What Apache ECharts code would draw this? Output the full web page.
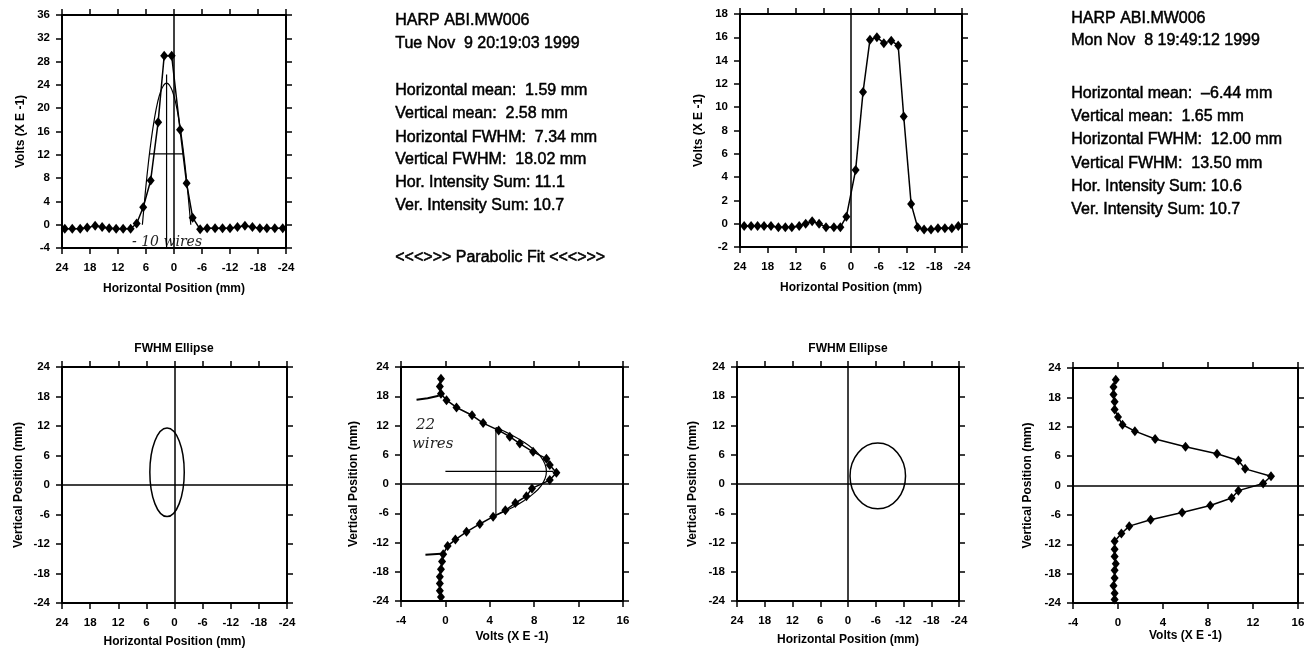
<!DOCTYPE html>
<html>
<head>
<meta charset="utf-8">
<script src="https://cdn.jsdelivr.net/npm/echarts@6/dist/echarts.min.js"></script>
<style>
  html, body { margin: 0; padding: 0; background: #fff; }
  #chart { width: 1308px; height: 649px; }
</style>
</head>
<body>
<div id="chart"></div>
<script>
// HARP ABI.MW006 scans

// Tue Nov 9 — horizontal wires
var novNineHorPos = [23.4, 21.8, 20.1, 18.6, 16.9, 15.4, 13.9, 12.4, 10.9, 9.3, 8.0, 6.6, 5.0, 3.4, 2.1, 0.5,
  -1.3, -2.7, -4.0, -5.6, -7.1, -8.8, -10.4, -12.0, -13.6, -15.2, -16.8, -18.4, -19.9, -21.6, -23.3]
var novNineHorVolts = [-0.7, -0.7, -0.7, -0.5, -0.2, -0.4, -0.6, -0.7, -0.7, -0.7, 0.2, 3.0, 7.6, 17.6, 29.0, 29.0,
  16.3, 7.1, 1.2, -0.8, -0.6, -0.6, -0.6, -0.6, -0.4, -0.2, -0.4, -0.6, -0.6, -0.6, -0.6]
// parabolic fit drawn over the horizontal scan
var novNineHorFitPos = [6.78, 6.14, 5.49, 4.84, 4.19, 3.54, 2.89, 2.24, 1.59, 0.94, 0.29, -0.36, -1.01, -1.66, -2.31, -2.96, -3.6]
var novNineHorFitVolts = [0, 5.6, 10.6, 14.8, 18.2, 20.9, 22.8, 23.9, 24.3, 23.9, 22.8, 20.9, 18.2, 14.8, 10.6, 5.6, 0]

// Tue Nov 9 — vertical wires
var novNineVerPos = [21.6, 20.0, 18.5, 17.2, 15.7, 14.1, 12.5, 11.0, 9.7, 8.3, 6.6, 5.2, 3.9, 2.3, 0.8, -0.9,
  -2.5, -3.9, -5.4, -6.7, -8.2, -9.8, -11.4, -12.7, -14.4, -15.9, -17.5, -19.0, -20.4, -21.9, -23.2]
var novNineVerVolts = [-0.4, -0.5, -0.4, 0.1, 1.0, 2.4, 3.4, 4.8, 5.8, 6.7, 7.9, 9.1, 9.4, 10.0, 9.4, 7.8,
  7.3, 6.3, 5.4, 4.3, 3.1, 1.9, 0.9, 0.2, -0.2, -0.3, -0.4, -0.5, -0.5, -0.5, -0.4]
var novNineVerFitPos = [11.58, 10.08, 8.58, 7.08, 5.58, 4.08, 2.58, 1.08, -0.42, -1.92, -3.42, -4.92, -6.42]
var novNineVerFitVolts = [4.56, 5.95, 7.08, 7.96, 8.6, 8.97, 9.1, 8.97, 8.6, 7.96, 7.08, 5.95, 4.56]

// Mon Nov 8 — horizontal wires
var novEightHorPos = [23.1, 21.6, 20.2, 18.8, 17.3, 15.7, 14.2, 12.8, 11.2, 9.8, 8.4, 6.9, 5.4, 3.7, 2.3, 1.0,
  -1.0, -2.6, -4.1, -5.6, -7.1, -8.7, -10.2, -11.4, -13.0, -14.4, -15.8, -17.3, -18.8, -20.3, -21.8, -23.2]
var novEightHorVolts = [-0.2, -0.2, -0.2, -0.2, -0.2, -0.3, -0.3, -0.3, -0.2, 0.0, 0.2, 0.0, -0.3, -0.3, -0.3, 0.6,
  4.6, 11.3, 15.8, 16.0, 15.5, 15.7, 15.3, 9.2, 1.7, -0.3, -0.5, -0.5, -0.4, -0.4, -0.4, -0.2]

// Mon Nov 8 — vertical wires
var novEightVerPos = [21.6, 20.1, 18.6, 17.1, 15.5, 14.0, 12.4, 11.1, 9.5, 7.9, 6.5, 5.1, 3.4, 1.9, 0.4, -1.05,
  -2.55, -4.1, -5.5, -7.0, -8.3, -9.8, -11.4, -13.0, -14.5, -16.0, -17.3, -18.9, -20.5, -22.0, -23.3]
var novEightVerVolts = [-0.2, -0.4, -0.4, -0.3, -0.3, 0.0, 0.4, 1.5, 3.3, 6.0, 8.8, 10.7, 11.3, 13.6, 12.9, 10.7,
  10.1, 8.2, 5.7, 2.9, 1.0, 0.3, -0.3, -0.3, -0.3, -0.2, -0.3, -0.3, -0.4, -0.3, -0.3]

// printed statistics: [hor mean, ver mean, hor FWHM, ver FWHM, hor sum, ver sum]
var novNineStats = [1.59, 2.58, 7.34, 18.02, 11.1, 10.7]
var novEightStats = [-6.44, 1.65, 12.00, 13.50, 10.6, 10.7]
var novNineStamp = 'Tue Nov  9 20:19:03 1999'
var novEightStamp = 'Mon Nov  8 19:49:12 1999'

var FONT = '"Liberation Sans", Arial, sans-serif'
var grids = [], xAxes = [], yAxes = [], series = []

function pair(a, b) {
  return a.map(function (v, i) { return [v, b[i]] })
}

// one plot box: bottom/left axes carry labels, top/right only ticks
function addPanel(box, xa, ya) {
  var gi = grids.length
  grids.push({ left: box[0], top: box[1], width: box[2], height: box[3] })
  function axis(a, pos, labelled) {
    return {
      gridIndex: gi, type: 'value', position: pos,
      min: a.min, max: a.max, interval: a.step, inverse: !!a.inverse,
      axisLine: { onZero: false, lineStyle: { color: '#000', width: 2 } },
      axisTick: { length: 6, lineStyle: { color: '#000', width: 1.5 } },
      splitLine: { show: false },
      axisLabel: { show: labelled, color: '#000', fontFamily: FONT, fontWeight: 'bold', fontSize: 11.5, margin: a.margin || 12 },
      name: labelled ? a.name : '', nameLocation: 'middle', nameGap: a.gap,
      nameTextStyle: { color: '#000', fontFamily: FONT, fontWeight: 'bold', fontSize: 12 }
    }
  }
  xAxes.push(axis(xa, 'bottom', true), axis(xa, 'top', false))
  yAxes.push(axis(ya, 'left', true), axis(ya, 'right', false))
  return 2 * gi
}

function scan(ai, data) {
  series.push({
    type: 'line', xAxisIndex: ai, yAxisIndex: ai, data: data,
    symbol: 'diamond', symbolSize: [8, 10], showSymbol: true,
    lineStyle: { color: '#000', width: 1.5 }, itemStyle: { color: '#000' }
  })
}
function thin(ai, data, smooth, w) {
  series.push({
    type: 'line', xAxisIndex: ai, yAxisIndex: ai, data: data, smooth: smooth,
    symbol: 'none', lineStyle: { color: '#000', width: w || 1.2 }
  })
}
function zeroLines(ai, vertical, horizontal) {
  var d = []
  if (vertical) d.push({ xAxis: 0 })
  if (horizontal) d.push({ yAxis: 0 })
  series.push({
    type: 'line', xAxisIndex: ai, yAxisIndex: ai, data: [],
    markLine: { silent: true, symbol: 'none', label: { show: false }, lineStyle: { color: '#000', width: 1.5, type: 'solid' }, data: d }
  })
}
function ellipse(ai, stats) {
  series.push({
    type: 'custom', xAxisIndex: ai, yAxisIndex: ai,
    data: [[stats[0], stats[1], stats[2], stats[3]]],
    encode: { x: 0, y: 1 },
    renderItem: function (params, api) {
      var c = api.coord([api.value(0), api.value(1)])
      var s = api.size([api.value(2), api.value(3)])
      return {
        type: 'ellipse',
        shape: { cx: c[0], cy: c[1], rx: Math.abs(s[0]) / 2, ry: Math.abs(s[1]) / 2 },
        style: { fill: 'none', stroke: '#000', lineWidth: 1.5 }
      }
    }
  })
}

function ax(base, extra) { return Object.assign({}, base, extra) }
var posAxis = { min: -24, max: 24, step: 6, inverse: true, name: 'Horizontal Position (mm)', gap: 33, margin: 14 }
var vposAxis = { min: -24, max: 24, step: 6, name: 'Vertical Position (mm)', gap: 37 }
var voltAxis = { min: -4, max: 16, step: 4, name: 'Volts (X E -1)', gap: 30, margin: 14 }

// top left: horizontal scan, Nov 9
var a1 = addPanel([62, 15, 224, 233], ax(posAxis, { gap: 35 }), { min: -4, max: 36, step: 4, name: 'Volts (X E -1)', gap: 35 })
zeroLines(a1, true, false)
thin(a1, pair(novNineHorFitPos, novNineHorFitVolts), true)
thin(a1, [[novNineStats[0], -4], [novNineStats[0], 25.8]], false)
thin(a1, [[novNineStats[0] + novNineStats[2] / 2, 12.15], [novNineStats[0] - novNineStats[2] / 2, 12.15]], false)
scan(a1, pair(novNineHorPos, novNineHorVolts))

// top right: horizontal scan, Nov 8
var a2 = addPanel([740, 14, 222, 233], ax(posAxis, { gap: 35 }), { min: -2, max: 18, step: 2, name: 'Volts (X E -1)', gap: 35 })
zeroLines(a2, true, false)
scan(a2, pair(novEightHorPos, novEightHorVolts))

// bottom: ellipse, vertical scan, ellipse, vertical scan
var a3 = addPanel([62, 367, 225, 236], posAxis, vposAxis)
zeroLines(a3, true, true)
ellipse(a3, novNineStats)

var a4 = addPanel([401, 367, 222, 234], voltAxis, ax(vposAxis, { gap: 41 }))
zeroLines(a4, false, true)
thin(a4, pair(novNineVerFitVolts, novNineVerFitPos), true)
thin(a4, [[0, novNineStats[1]], [9.7, novNineStats[1]]], false)
thin(a4, [[4.55, novNineStats[1] + novNineStats[3] / 2], [4.55, novNineStats[1] - novNineStats[3] / 2]], false)
// pen strokes on the printout
thin(a4, [[-2.6, 17.3], [-1.6, 17.6], [-0.6, 18.1]], false, 2)
thin(a4, [[-1.8, -14.5], [-0.4, -14.3]], false, 2)
scan(a4, pair(novNineVerVolts, novNineVerPos))

var a5 = addPanel([737, 367, 222, 234], posAxis, ax(vposAxis, { gap: 38 }))
zeroLines(a5, true, true)
ellipse(a5, novEightStats)

var a6 = addPanel([1073, 368, 225, 235], ax(voltAxis, { gap: 26 }), ax(vposAxis, { gap: 39 }))
zeroLines(a6, false, true)
scan(a6, pair(novEightVerVolts, novEightVerPos))

// printed text blocks
function statLines(stats, stamp) {
  return [
    'HARP ABI.MW006', stamp, '',
    'Horizontal mean:  ' + stats[0].toFixed(2).replace('-', '–') + ' mm',
    'Vertical mean:  ' + stats[1].toFixed(2) + ' mm',
    'Horizontal FWHM:  ' + stats[2].toFixed(2) + ' mm',
    'Vertical FWHM:  ' + stats[3].toFixed(2) + ' mm',
    'Hor. Intensity Sum: ' + stats[4].toFixed(1),
    'Ver. Intensity Sum: ' + stats[5].toFixed(1)
  ]
}
var graphics = []
var printFont = '16px ' + FONT
function textBlock(x, tops, lines) {
  lines.forEach(function (t, i) {
    if (!t) return
    graphics.push({
      type: 'text', left: x, top: tops[i],
      style: { text: t, fill: '#000', stroke: '#000', lineWidth: 0.5, font: printFont }
    })
  })
}
textBlock(395, [12, 35, 0, 82, 105, 129, 151, 174, 197], statLines(novNineStats, novNineStamp))
textBlock(1071, [10, 32, 0, 85, 108, 131, 155, 178, 201], statLines(novEightStats, novEightStamp))
graphics.push({ type: 'text', left: 395, top: 249, style: { text: '<<<>>> Parabolic Fit <<<>>>', fill: '#000', stroke: '#000', lineWidth: 0.5, font: printFont } })
function titleText(cx, t) {
  graphics.push({ type: 'text', x: cx, y: 343, style: { text: t, fill: '#000', font: 'bold 12px ' + FONT, textAlign: 'center' } })
}
titleText(174, 'FWHM Ellipse')
titleText(848, 'FWHM Ellipse')
// handwriting
var hand = 'italic 15px "DejaVu Serif", serif'
graphics.push({ type: 'text', left: 132, top: 235, style: { text: '- 10 wires', fill: '#222', font: 'italic 14px "DejaVu Serif", serif' } })
graphics.push({ type: 'text', left: 416, top: 418, style: { text: '22', fill: '#222', font: hand } })
graphics.push({ type: 'text', left: 412, top: 437, style: { text: 'wires', fill: '#222', font: hand } })

var chart = echarts.init(document.getElementById('chart'))
chart.setOption({
  backgroundColor: '#fff',
  animation: false,
  grid: grids,
  xAxis: xAxes,
  yAxis: yAxes,
  series: series,
  graphic: graphics
})
</script>
</body>
</html>
